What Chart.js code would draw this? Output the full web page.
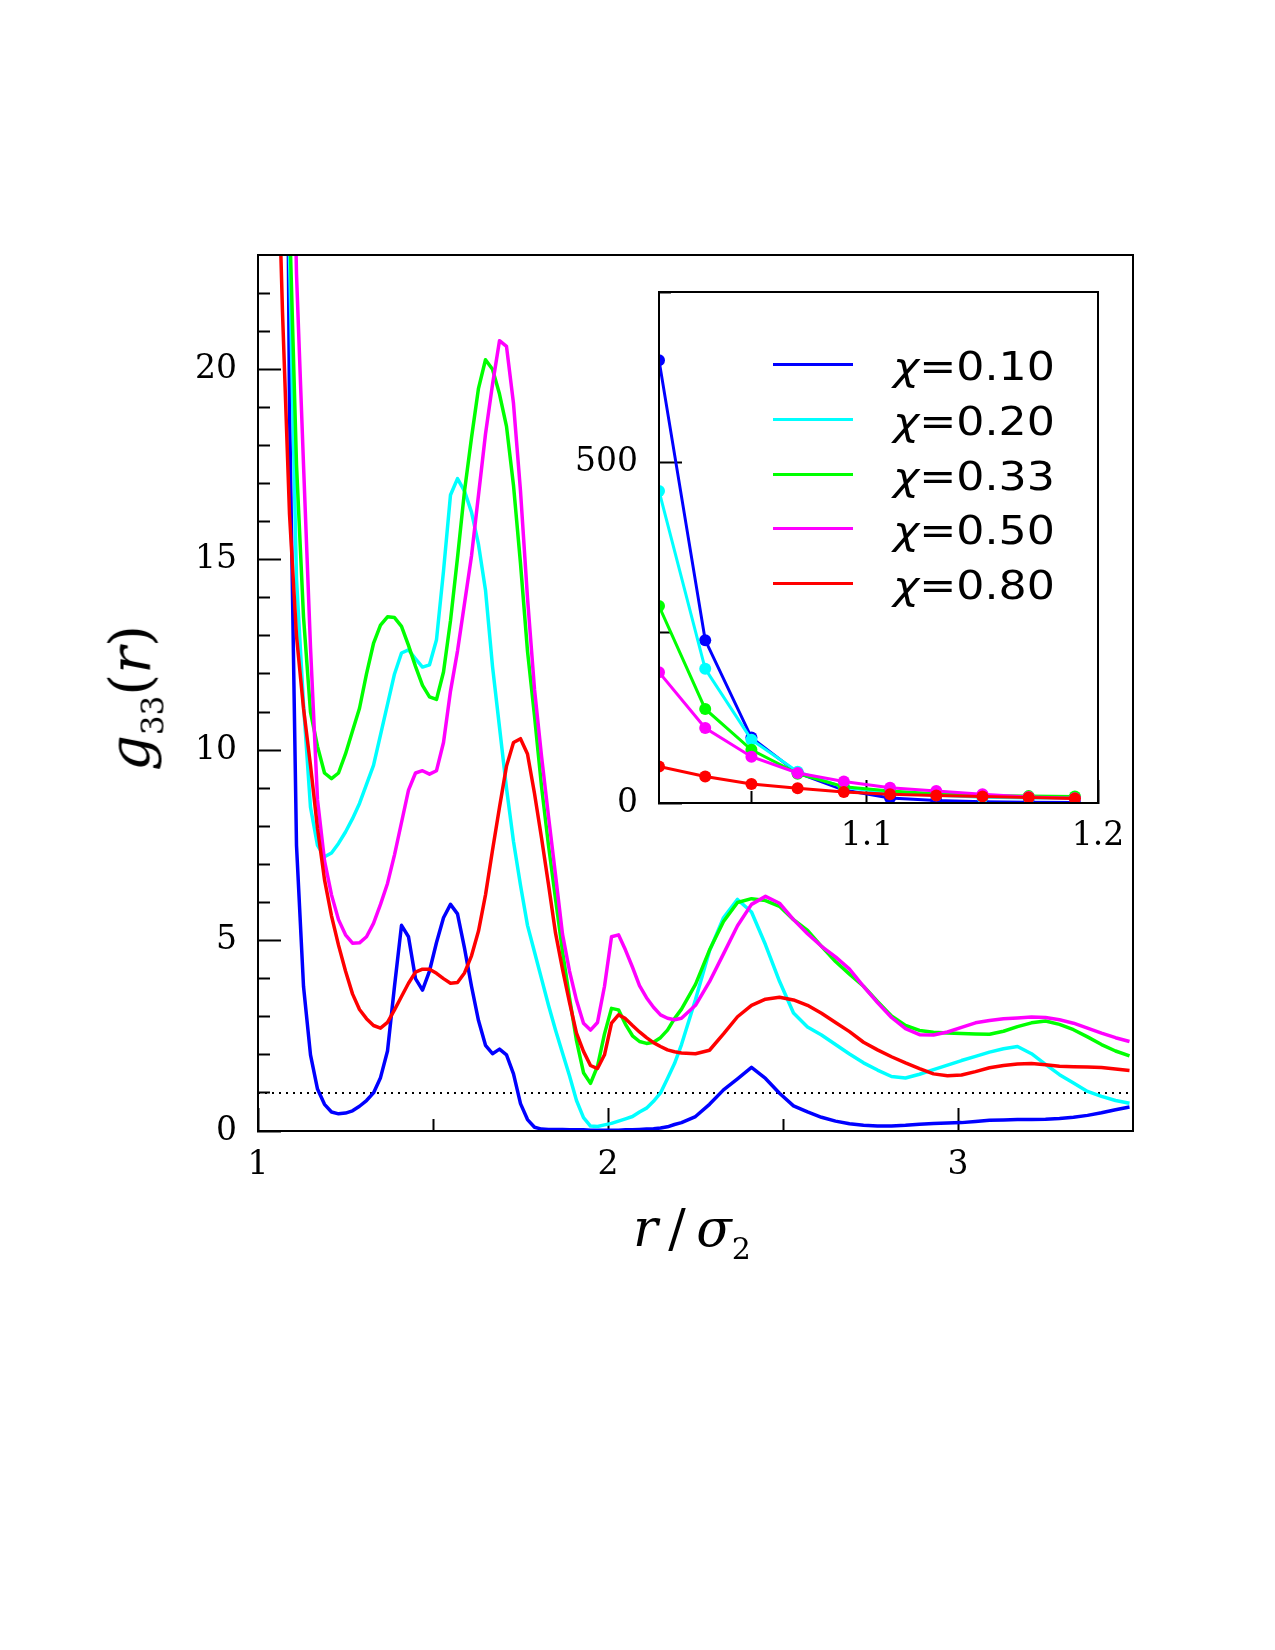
<!DOCTYPE html>
<html>
<head>
<meta charset="utf-8">
<script src="https://cdn.jsdelivr.net/npm/chart.js@4.4.1/dist/chart.umd.min.js"></script>
<style>
  html, body { margin: 0; padding: 0; background: #fff; }
  body { width: 1275px; height: 1650px; position: relative; overflow: hidden; }
  canvas { position: absolute; left: 0; top: 0; }
  .t { position: absolute; white-space: nowrap; line-height: 1; color: #000; z-index: 5; }
  .sub { font-style: normal; position: relative; }
  .up { font-style: normal; }
  .ln { position: absolute; height: 3px; z-index: 5; }
</style>
</head>
<body>
<canvas id="main" width="1275" height="1650"></canvas>
<canvas id="inset" width="1275" height="1650"></canvas>

<div id="ytitle" class="t" style="left:130px; top:698px; transform:translate(-50%,-50%) rotate(-90deg); font:italic 56px 'DejaVu Serif';">g<span class="sub" style="font-size:31px; top:14px;">33</span><span class="up">(</span>r<span class="up">)</span></div>
<div id="xtitle" class="t" style="left:633px; top:1198px; font:52px 'DejaVu Serif';"><i>r</i>&#8201;/&#8201;<i>σ</i><span class="sub" style="font-size:30px; top:13px;">2</span></div>

<script>
// r / sigma_2 grid (fine up to 2.19, then coarser)
var r = [1.01, 1.03, 1.05, 1.07, 1.09, 1.11, 1.13, 1.15, 1.17, 1.19,
         1.21, 1.23, 1.25, 1.27, 1.29, 1.31, 1.33, 1.35, 1.37, 1.39,
         1.41, 1.43, 1.45, 1.47, 1.49, 1.51, 1.53, 1.55, 1.57, 1.59,
         1.61, 1.63, 1.65, 1.67, 1.69, 1.71, 1.73, 1.75, 1.77, 1.79,
         1.81, 1.83, 1.85, 1.87, 1.89, 1.91, 1.93, 1.95, 1.97, 1.99,
         2.01, 2.03, 2.05, 2.07, 2.09, 2.11, 2.13, 2.15, 2.17, 2.19,
         2.21, 2.25, 2.29, 2.33, 2.37, 2.41, 2.45, 2.49, 2.53, 2.57,
         2.61, 2.65, 2.69, 2.73, 2.77, 2.81, 2.85, 2.89, 2.93, 2.97,
         3.01, 3.05, 3.09, 3.13, 3.17, 3.21, 3.25, 3.29, 3.33, 3.37,
         3.41, 3.45, 3.49];

// g33(r) fuer die fuenf Zusammensetzungen
var g010 = [650, 239, 96, 44, 19, 7.5, 3.8, 2.0, 1.1, 0.7,
            0.5, 0.45, 0.47, 0.53, 0.65, 0.8, 1.0, 1.4, 2.1, 3.8,
            5.4, 5.1, 4.0, 3.7, 4.2, 4.95, 5.6, 5.95, 5.7, 4.8,
            3.8, 2.9, 2.25, 2.03, 2.15, 2.0, 1.5, 0.72, 0.3, 0.1,
            0.05, 0.04, 0.04, 0.04, 0.03, 0.03, 0.03, 0.02, 0.02, 0.02,
            0.02, 0.02, 0.03, 0.03, 0.04, 0.05, 0.06, 0.08, 0.11, 0.17,
            0.22, 0.38, 0.7, 1.08, 1.37, 1.67, 1.38, 0.99, 0.66, 0.5,
            0.36, 0.26, 0.19, 0.15, 0.13, 0.13, 0.15, 0.18, 0.2, 0.21,
            0.22, 0.25, 0.28, 0.29, 0.3, 0.3, 0.31, 0.33, 0.36, 0.41,
            0.48, 0.56, 0.63];
var g020 = [458, 197, 93, 46, 23, 14.5, 11.2, 8.5, 7.5, 7.2,
            7.3, 7.55, 7.85, 8.2, 8.6, 9.1, 9.6, 10.4, 11.2, 12.0,
            12.55, 12.63, 12.4, 12.18, 12.24, 12.9, 14.7, 16.7, 17.13, 16.8,
            16.25, 15.4, 14.2, 12.2, 10.6, 9.0, 7.6, 6.45, 5.4, 4.7,
            4.0, 3.3, 2.65, 2.05, 1.45, 0.8, 0.35, 0.13, 0.12, 0.16,
            0.2, 0.26, 0.32, 0.38, 0.5, 0.6, 0.78, 1.0, 1.38, 1.77,
            2.27, 3.45, 4.73, 5.6, 6.08, 5.75, 4.89, 3.93, 3.1, 2.73,
            2.52, 2.27, 2.02, 1.79, 1.6, 1.43, 1.39, 1.49, 1.61, 1.73,
            1.85, 1.96, 2.07, 2.16, 2.22, 2.03, 1.75, 1.48, 1.26, 1.04,
            0.91, 0.8, 0.73];
var g033 = [289, 138, 78, 43, 24, 17.5, 13.5, 11.0, 10.1, 9.4,
            9.25, 9.4, 9.9, 10.5, 11.1, 12.0, 12.8, 13.28, 13.5, 13.48,
            13.25, 12.75, 12.2, 11.7, 11.4, 11.33, 12.05, 13.4, 15.05, 16.8,
            18.2, 19.5, 20.25, 20.0, 19.35, 18.5, 16.95, 14.9, 12.6, 10.9,
            9.05, 7.5, 6.1, 4.72, 3.5, 2.37, 1.53, 1.25, 1.7, 2.55,
            3.22, 3.18, 2.8, 2.5, 2.35, 2.3, 2.33, 2.45, 2.65, 2.95,
            3.2, 3.85, 4.75, 5.5, 6.0, 6.1, 6.05, 5.9, 5.55, 5.27,
            4.85, 4.45, 4.12, 3.8, 3.4, 3.02, 2.77, 2.64, 2.59, 2.57,
            2.56, 2.55, 2.54, 2.62, 2.74, 2.84, 2.89, 2.8, 2.66, 2.47,
            2.27, 2.1, 1.97];
var g050 = [192, 110, 68, 44, 31.6, 22.5, 17.5, 12.7, 8.7, 7.1,
            6.2, 5.55, 5.15, 4.93, 4.94, 5.1, 5.45, 5.95, 6.5, 7.25,
            8.1, 8.95, 9.4, 9.46, 9.37, 9.46, 10.2, 11.55, 12.6, 13.85,
            15.1, 16.7, 18.3, 19.6, 20.75, 20.6, 19.1, 16.8, 14.0, 11.6,
            9.85, 8.26, 6.73, 5.17, 4.2, 3.43, 2.83, 2.65, 2.85, 3.8,
            5.1, 5.15, 4.75, 4.3, 3.82, 3.5, 3.25, 3.05, 2.96, 2.92,
            2.96, 3.3, 3.92, 4.65, 5.39, 5.95, 6.16, 5.98, 5.55, 5.18,
            4.85, 4.57, 4.25, 3.8, 3.37, 2.98, 2.69, 2.53, 2.52, 2.6,
            2.72, 2.84, 2.9, 2.95, 2.97, 2.99, 2.98, 2.92, 2.83, 2.7,
            2.57, 2.45, 2.35];
var g080 = [53.7, 39, 28, 21.5, 16.2, 13.0, 11.1, 9.6, 7.95, 6.6,
            5.65, 4.88, 4.2, 3.6, 3.19, 2.95, 2.77, 2.7, 2.85, 3.18,
            3.53, 3.88, 4.17, 4.25, 4.25, 4.14, 4.0, 3.88, 3.9, 4.15,
            4.6, 5.25, 6.2, 7.37, 8.5, 9.58, 10.2, 10.3, 9.9, 8.86,
            7.7, 6.47, 5.2, 4.25, 3.38, 2.57, 2.09, 1.72, 1.64, 2.0,
            2.83, 3.05, 2.95, 2.77, 2.6, 2.45, 2.32, 2.22, 2.13, 2.08,
            2.05, 2.03, 2.12, 2.55, 3.0, 3.3, 3.46, 3.51, 3.44, 3.3,
            3.09, 2.85, 2.61, 2.33, 2.13, 1.95, 1.79, 1.64, 1.5, 1.45,
            1.47, 1.56, 1.66, 1.72, 1.76, 1.77, 1.74, 1.7, 1.69, 1.68,
            1.67, 1.63, 1.59];

var labels = ['0.10', '0.20', '0.33', '0.50', '0.80'];
var colors = ['#0000ff', '#00ffff', '#00ff00', '#ff00ff', '#ff0000'];
var values = [g010, g020, g033, g050, g080];

// Achsenstriche (lang / kurz)
var xTicks = [1, 2, 3];
var xMinor = [1.5, 2.5];
var yTicks = [0, 5, 10, 15, 20];
var yMinor = [1, 2, 3, 4, 6, 7, 8, 9, 11, 12, 13, 14, 16, 17, 18, 19, 21, 22];
var inXTicks = [1.1, 1.2];
var inXMinor = [1.05, 1.15];
var inYTicks = [0, 500];
var inYMinor = [250, 750];

// Inset: die ersten Punkte (r = 1.01 ... 1.19)
var nInset = 10;

Chart.defaults.font.family = "'DejaVu Serif', serif";
Chart.defaults.color = '#000';

// Rahmen oben/rechts
var framePlugin = {
    id: 'frame',
    afterDraw: function(chart) {
        var a = chart.chartArea, ctx = chart.ctx;
        ctx.save();
        ctx.strokeStyle = '#000';
        ctx.lineWidth = 2;
        ctx.strokeRect(a.left, a.top, a.right - a.left, a.bottom - a.top);
        ctx.restore();
    }
};

// Hauptachse mit langen Strichen + Nebenachse mit kurzen Strichen
function axisPair(id, pos, min, max, major, minor, size, pad, fmt) {
    var horiz = pos === 'bottom';
    var s = {};
    s[id] = {
        type: 'linear', position: pos, min: min, max: max, weight: 1,
        afterFit: function(sc) { if (horiz) sc.height = size; else sc.width = size; },
        afterBuildTicks: function(sc) { sc.ticks = major.map(function(v) { return { value: v }; }); },
        ticks: { autoSkip: false, maxRotation: 0, padding: pad, font: { size: 33 }, callback: fmt },
        grid: { drawOnChartArea: false, tickLength: -23, tickWidth: 2, tickColor: '#000' },
        border: { display: true, color: '#000', width: 2 }
    };
    s[id + 'm'] = {
        type: 'linear', position: pos, min: min, max: max, weight: 0,
        afterFit: function(sc) { if (horiz) sc.height = 0; else sc.width = 0; },
        afterBuildTicks: function(sc) { sc.ticks = minor.map(function(v) { return { value: v }; }); },
        ticks: { display: false },
        grid: { drawOnChartArea: false, tickLength: -12, tickWidth: 2, tickColor: '#000' },
        border: { display: false }
    };
    return s;
}

function pts(vals, n) {
    var out = [];
    for (var i = 0; i < (n || r.length); i++) out.push({ x: r[i], y: vals[i] });
    return out;
}

var plain = function(v) { return String(v); };
var oneDec = function(v) { return v.toFixed(1); };

// Hauptdiagramm
var mainSets = values.map(function(v, i) {
    return { label: labels[i], data: pts(v), borderColor: colors[i], borderWidth: 3.5,
             pointRadius: 0, tension: 0, fill: false, borderJoinStyle: 'round', order: 4 - i };
});
mainSets.push({ data: [{ x: 1, y: 1 }, { x: 3.5, y: 1 }], borderColor: '#000', borderWidth: 2,
                borderDash: [2, 5], pointRadius: 0, fill: false, order: 10 });

var mainScales = Object.assign({},
    axisPair('x', 'bottom', 1, 3.5, xTicks, xMinor, 519, 38, plain),
    axisPair('y', 'left', 0, 23, yTicks, yMinor, 258, 44, plain));

new Chart(document.getElementById('main'), {
    type: 'line',
    data: { datasets: mainSets },
    options: {
        responsive: false, animation: false, devicePixelRatio: 1, events: [],
        layout: { padding: { left: 0, top: 255, right: 142, bottom: 0 } },
        plugins: { legend: { display: false }, tooltip: { enabled: false } },
        scales: mainScales
    },
    plugins: [framePlugin]
});

// Einsatzbild
var insetSets = values.map(function(v, i) {
    return { label: labels[i], data: pts(v, nInset), borderColor: colors[i], borderWidth: 3,
             pointRadius: 6, pointBackgroundColor: colors[i], pointBorderWidth: 0,
             tension: 0, fill: false, order: 4 - i };
});

var insetScales = Object.assign({},
    axisPair('x', 'bottom', 1.01, 1.2, inXTicks, inXMinor, 847, 37, oneDec),
    axisPair('y', 'left', 0, 750, inYTicks, inYMinor, 659, 44, plain));

new Chart(document.getElementById('inset'), {
    type: 'line',
    data: { datasets: insetSets },
    options: {
        responsive: false, animation: false, devicePixelRatio: 1, events: [],
        layout: { padding: { left: 0, top: 292, right: 177, bottom: 0 } },
        plugins: { legend: { display: false }, tooltip: { enabled: false } },
        scales: insetScales
    },
    plugins: [framePlugin]
});

// Legende im Einsatzbild
labels.forEach(function(lab, i) {
    var ln = document.createElement('div');
    ln.className = 'ln';
    ln.style.left = '773px';
    ln.style.width = '80px';
    ln.style.top = (364.5 + 54.75 * i - 1.5) + 'px';
    ln.style.background = colors[i];
    document.body.appendChild(ln);

    var tx = document.createElement('div');
    tx.className = 't';
    tx.style.left = '893px';
    tx.style.top = (344 + 54.8 * i) + 'px';
    tx.style.font = "38.5px 'DejaVu Sans'";
    tx.style.transformOrigin = '0 0';
    tx.style.transform = 'scaleX(1.15)';
    tx.innerHTML = '<i>χ</i>=' + lab;
    document.body.appendChild(tx);
});
</script>
</body>
</html>
